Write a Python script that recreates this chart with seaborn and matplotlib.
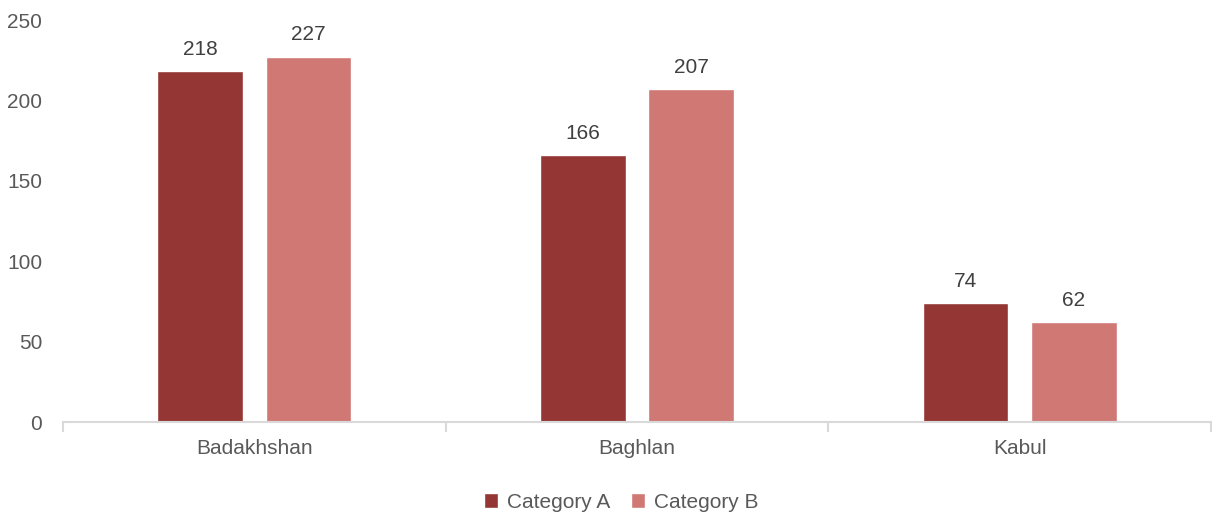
import matplotlib
matplotlib.use("Agg")
import matplotlib.pyplot as plt
import seaborn as sns
import pandas as pd
from matplotlib.ticker import FixedLocator

provinces = ["Badakhshan", "Baghlan", "Kabul"]
series_names = ["Category A", "Category B"]
category_a = [218, 166, 74]
category_b = [227, 207, 62]
y_ticks = [0, 50, 100, 150, 200, 250]

df = pd.DataFrame({
    "province": provinces * 2,
    "series": [series_names[0]] * 3 + [series_names[1]] * 3,
    "value": category_a + category_b,
})

sns.set_theme(style="white")
plt.rcParams["font.family"] = ["Liberation Sans", "DejaVu Sans"]

text_color = "#595959"
axis_color = "#d9d9d9"
palette = {"Category A": "#943634", "Category B": "#d07874"}
fs = 15

fig = plt.figure(figsize=(12.12, 5.16), dpi=100)
ax = fig.add_axes([63 / 1212, 1 - 422 / 516, 1148 / 1212, 402 / 516])

sns.barplot(data=df, x="province", y="value", hue="series", palette=palette,
            order=provinces, hue_order=series_names,
            width=0.567, gap=0.21, saturation=1, ax=ax, legend=True)

for container in ax.containers:
    ax.bar_label(container, fmt="%g", padding=9, fontsize=fs, color="#404040")

ax.set_xlim(-0.5, 2.5)
ax.set_ylim(0, 250)
ax.set_yticks(y_ticks)
ax.set_xlabel("")
ax.set_ylabel("")

for side in ("top", "right", "left"):
    ax.spines[side].set_visible(False)
ax.spines["bottom"].set_color(axis_color)
ax.spines["bottom"].set_linewidth(1.5)

ax.tick_params(axis="y", left=False, length=0, labelsize=fs, colors=text_color, pad=15)
ax.tick_params(axis="x", which="major", bottom=False, length=0, labelsize=fs,
               colors=text_color, pad=12)
ax.xaxis.set_minor_locator(FixedLocator([-0.5, 0.5, 1.5, 2.5]))
ax.tick_params(axis="x", which="minor", bottom=True, length=7, width=1.5,
               color=axis_color, direction="out")

handles, labels = ax.get_legend_handles_labels()
ax.get_legend().remove()
fig.legend(handles, labels, loc="center", bbox_to_anchor=(621 / 1212, 1 - 502 / 516),
           ncol=2, frameon=False, fontsize=fs, labelcolor=text_color,
           handlelength=0.7, handleheight=0.7, handletextpad=0.4, columnspacing=1.0)

fig.savefig("out.png", dpi=100)
